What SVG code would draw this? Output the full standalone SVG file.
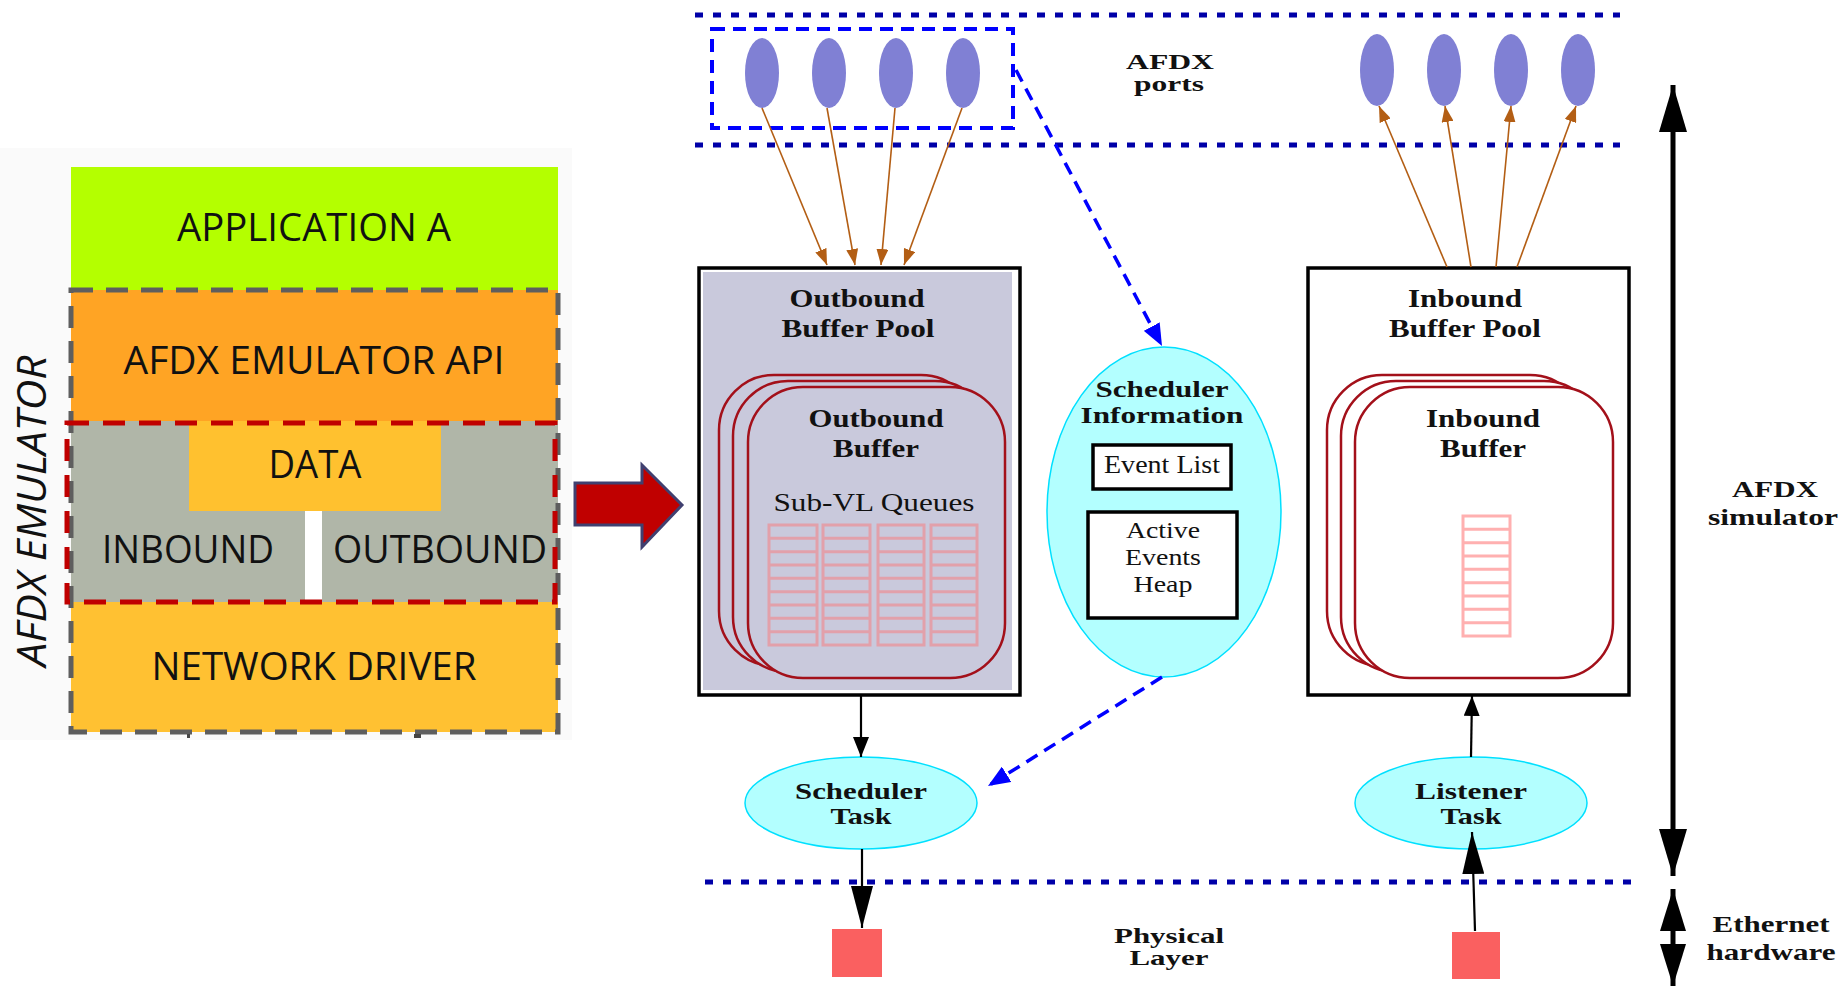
<svg xmlns="http://www.w3.org/2000/svg" width="1841" height="989" viewBox="0 0 1841 989">
<style>
.sans{font-family:"Open Sans","Noto Sans",sans-serif;fill:#111;}
.lt{font-size:38px;text-anchor:middle;}
.ser{font-family:"Liberation Serif","Times New Roman",serif;fill:#111;text-anchor:middle;}
.b{font-weight:bold;font-size:26px;}
.b2{font-weight:bold;font-size:23px;}
.b3{font-weight:bold;font-size:21px;}
.n{font-weight:normal;font-size:25px;}
.n2{font-weight:normal;font-size:23px;}
.dot{stroke:#0000a8;stroke-width:5;stroke-dasharray:8 10;fill:none;}
.port{fill:#8080d4;}
.brown{stroke:#b35e14;stroke-width:1.6;fill:none;marker-end:url(#hBrown);}
.bdash{stroke:#0000ff;stroke-width:3.5;stroke-dasharray:13 8;fill:none;}
.blk{stroke:#000;stroke-width:2.2;fill:none;}
.stack{fill:#c9c9dc;stroke:#a3101a;stroke-width:2.5;}
.stackw{fill:#fff;stroke:#a3101a;stroke-width:2.5;}
.q{fill:none;stroke:#e2a0aa;stroke-width:3;}
.qi{fill:none;stroke:#ffb0b0;stroke-width:3;}
.cyan{fill:#b3ffff;stroke:#00e0ff;stroke-width:1.5;}
.box{fill:#fff;stroke:#000;stroke-width:3.5;}
.phy{fill:#fa6060;}
</style>
<defs>
<marker id="hBrown" viewBox="0 0 16 12" refX="16" refY="6" markerWidth="16" markerHeight="12" markerUnits="userSpaceOnUse" orient="auto"><path d="M0,0 L16,6 L0,12 Z" fill="#b35e14"/></marker>
<marker id="hBlue" viewBox="0 0 22 18" refX="22" refY="9" markerWidth="22" markerHeight="18" markerUnits="userSpaceOnUse" orient="auto"><path d="M0,0 L22,9 L0,18 Z" fill="#0000ff"/></marker>
<marker id="hBlk" viewBox="0 0 20 16" refX="20" refY="8" markerWidth="20" markerHeight="16" markerUnits="userSpaceOnUse" orient="auto"><path d="M0,0 L20,8 L0,16 Z" fill="#000"/></marker>
<marker id="hBig" viewBox="0 0 42 22" refX="42" refY="11" markerWidth="42" markerHeight="22" markerUnits="userSpaceOnUse" orient="auto"><path d="M0,0 L42,11 L0,22 Z" fill="#000"/></marker>
<marker id="hVert" viewBox="0 0 47 28" refX="47" refY="14" markerWidth="47" markerHeight="28" markerUnits="userSpaceOnUse" orient="auto-start-reverse"><path d="M0,0 L47,14 L0,28 Z" fill="#000"/></marker>
<marker id="hEth" viewBox="0 0 42 26" refX="42" refY="13" markerWidth="42" markerHeight="26" markerUnits="userSpaceOnUse" orient="auto-start-reverse"><path d="M0,0 L42,13 L0,26 Z" fill="#000"/></marker>
</defs>
<rect x="0" y="0" width="1841" height="989" fill="#fff"/>
<rect x="0" y="148" width="572" height="592" fill="#fafafa"/>

<!-- Left: AFDX emulator stack -->
<g id="application-a">
<rect x="71" y="167" width="487" height="123" fill="#b4ff00"/>
<text class="sans lt" x="314" y="241" textLength="274" lengthAdjust="spacingAndGlyphs">APPLICATION A</text>
</g>
<g id="emulator-api">
<rect x="71" y="290" width="487" height="131" fill="#ffa424"/>
<text class="sans lt" x="314" y="374" textLength="381" lengthAdjust="spacingAndGlyphs">AFDX EMULATOR API</text>
</g>
<g id="data-layer">
<rect x="71" y="421" width="487" height="181" fill="#b0b6a8"/>
<rect x="189" y="421" width="252" height="90" fill="#ffc12f"/>
<rect x="305" y="511" width="17" height="91" fill="#fff"/>
<text class="sans lt" x="315" y="478" textLength="93" lengthAdjust="spacingAndGlyphs">DATA</text>
<text class="sans lt" x="188" y="563" textLength="172" lengthAdjust="spacingAndGlyphs">INBOUND</text>
<text class="sans lt" x="440" y="563" textLength="214" lengthAdjust="spacingAndGlyphs">OUTBOUND</text>
</g>
<g id="network-driver">
<rect x="71" y="602" width="487" height="130" fill="#ffc132"/>
<text class="sans lt" x="314" y="680" textLength="325" lengthAdjust="spacingAndGlyphs">NETWORK DRIVER</text>
</g>
<g id="emulator-frame">
<rect x="71" y="290" width="487" height="442" fill="none" stroke="#5e5e5e" stroke-width="5" stroke-dasharray="22 13"/>
<rect x="67" y="423" width="488" height="179" fill="none" stroke="#c00000" stroke-width="5" stroke-dasharray="22 14"/>
<rect x="187" y="734" width="3" height="4" fill="#444"/>
<rect x="414" y="734" width="7" height="4" fill="#444"/>
<text class="sans" transform="translate(46,511) rotate(-90)" x="0" y="0" text-anchor="middle" font-size="40" font-style="italic" textLength="311" lengthAdjust="spacingAndGlyphs">AFDX EMULATOR</text>
</g>
<g id="big-arrow">
<path d="M575,483 L642,483 L642,465 L682,505 L642,547 L642,525 L575,525 Z" fill="#c00000" stroke="#404070" stroke-width="3" stroke-linejoin="miter"/>
</g>

<!-- Right: AFDX simulator -->
<g id="layer-lines">
<line class="dot" x1="695" y1="15" x2="1620" y2="15"/>
<line class="dot" x1="695" y1="145" x2="1620" y2="145"/>
<line class="dot" x1="705" y1="882" x2="1631" y2="882"/>
</g>
<g id="out-ports">
<rect x="712" y="29" width="301" height="99" fill="none" stroke="#0000ff" stroke-width="4" stroke-dasharray="13 8"/>
<ellipse class="port" cx="762" cy="73" rx="17" ry="35"/>
<ellipse class="port" cx="829" cy="73" rx="17" ry="35"/>
<ellipse class="port" cx="896" cy="73" rx="17" ry="35"/>
<ellipse class="port" cx="963" cy="73" rx="17" ry="35"/>
</g>
<g id="in-ports">
<ellipse class="port" cx="1377" cy="70" rx="17" ry="36"/>
<ellipse class="port" cx="1444" cy="70" rx="17" ry="36"/>
<ellipse class="port" cx="1511" cy="70" rx="17" ry="36"/>
<ellipse class="port" cx="1578" cy="70" rx="17" ry="36"/>
</g>
<g id="afdx-ports-label">
<text class="ser b3" x="1170" y="69" textLength="88" lengthAdjust="spacingAndGlyphs">AFDX</text>
<text class="ser b3" x="1169" y="91" textLength="70" lengthAdjust="spacingAndGlyphs">ports</text>
</g>

<g id="outbound-buffer-pool">
<rect x="703" y="272" width="309" height="418" fill="#c9c9dc"/>
<rect x="699" y="268" width="321" height="427" fill="none" stroke="#000" stroke-width="3.5"/>
<text class="ser b" x="857" y="307" textLength="135" lengthAdjust="spacingAndGlyphs">Outbound</text>
<text class="ser b" x="858" y="337" textLength="153" lengthAdjust="spacingAndGlyphs">Buffer Pool</text>
</g>
<g id="outbound-buffer">
<rect class="stack" x="719" y="375" width="257" height="291" rx="55"/>
<rect class="stack" x="733" y="381" width="257" height="291" rx="55"/>
<rect class="stack" x="748" y="387" width="257" height="291" rx="55"/>
<text class="ser b" x="876" y="427" textLength="135" lengthAdjust="spacingAndGlyphs">Outbound</text>
<text class="ser b" x="876" y="457" textLength="86" lengthAdjust="spacingAndGlyphs">Buffer</text>
<text class="ser n" x="874" y="511" textLength="201" lengthAdjust="spacingAndGlyphs">Sub-VL Queues</text>
<g id="sub-vl-queues">
<rect class="q" x="769" y="525" width="48" height="120"/>
<rect class="q" x="823" y="525" width="47" height="120"/>
<rect class="q" x="878" y="525" width="46" height="120"/>
<rect class="q" x="931" y="525" width="46" height="120"/>
<path class="q" stroke-width="2.5" d="M769,538.3H817M769,551.7H817M769,565H817M769,578.3H817M769,591.7H817M769,605H817M769,618.3H817M769,631.7H817
M823,538.3H870M823,551.7H870M823,565H870M823,578.3H870M823,591.7H870M823,605H870M823,618.3H870M823,631.7H870
M878,538.3H924M878,551.7H924M878,565H924M878,578.3H924M878,591.7H924M878,605H924M878,618.3H924M878,631.7H924
M931,538.3H977M931,551.7H977M931,565H977M931,578.3H977M931,591.7H977M931,605H977M931,618.3H977M931,631.7H977"/>
</g>
</g>

<g id="inbound-buffer-pool">
<rect class="box" x="1308" y="268" width="321" height="427"/>
<text class="ser b" x="1465" y="307" textLength="114" lengthAdjust="spacingAndGlyphs">Inbound</text>
<text class="ser b" x="1465" y="337" textLength="152" lengthAdjust="spacingAndGlyphs">Buffer Pool</text>
</g>
<g id="inbound-buffer">
<rect class="stackw" x="1327" y="375" width="258" height="291" rx="55"/>
<rect class="stackw" x="1341" y="381" width="258" height="291" rx="55"/>
<rect class="stackw" x="1355" y="387" width="258" height="291" rx="55"/>
<text class="ser b" x="1483" y="427" textLength="114" lengthAdjust="spacingAndGlyphs">Inbound</text>
<text class="ser b" x="1483" y="457" textLength="86" lengthAdjust="spacingAndGlyphs">Buffer</text>
<rect class="qi" x="1463" y="516" width="47" height="120"/>
<path class="qi" stroke-width="2.5" d="M1463,529.3H1510M1463,542.7H1510M1463,556H1510M1463,569.3H1510M1463,582.7H1510M1463,596H1510M1463,609.3H1510M1463,622.7H1510"/>
</g>

<g id="scheduler-information">
<ellipse class="cyan" cx="1164" cy="512" rx="117" ry="165"/>
<text class="ser b2" x="1162" y="397" textLength="133" lengthAdjust="spacingAndGlyphs">Scheduler</text>
<text class="ser b2" x="1162" y="423" textLength="163" lengthAdjust="spacingAndGlyphs">Information</text>
<rect class="box" x="1093" y="445" width="138" height="44"/>
<text class="ser n" x="1162" y="473" textLength="116" lengthAdjust="spacingAndGlyphs">Event List</text>
<rect class="box" x="1088" y="512" width="149" height="106"/>
<text class="ser n2" x="1163" y="538" textLength="74" lengthAdjust="spacingAndGlyphs">Active</text>
<text class="ser n2" x="1163" y="565" textLength="76" lengthAdjust="spacingAndGlyphs">Events</text>
<text class="ser n2" x="1163" y="592" textLength="59" lengthAdjust="spacingAndGlyphs">Heap</text>
</g>

<g id="scheduler-task">
<ellipse class="cyan" cx="861" cy="803" rx="116" ry="46"/>
<text class="ser b2" x="861" y="799" textLength="132" lengthAdjust="spacingAndGlyphs">Scheduler</text>
<text class="ser b2" x="861" y="824" textLength="61" lengthAdjust="spacingAndGlyphs">Task</text>
</g>
<g id="listener-task">
<ellipse class="cyan" cx="1471" cy="803" rx="116" ry="46"/>
<text class="ser b2" x="1471" y="799" textLength="112" lengthAdjust="spacingAndGlyphs">Listener</text>
<text class="ser b2" x="1471" y="824" textLength="61" lengthAdjust="spacingAndGlyphs">Task</text>
</g>

<g id="physical-layer">
<rect class="phy" x="832" y="929" width="50" height="48"/>
<rect class="phy" x="1452" y="932" width="48" height="47"/>
<text class="ser b3" x="1169" y="943" textLength="110" lengthAdjust="spacingAndGlyphs">Physical</text>
<text class="ser b3" x="1169" y="965" textLength="79" lengthAdjust="spacingAndGlyphs">Layer</text>
</g>

<g id="side-labels">
<text class="ser b2" x="1775" y="497" textLength="86" lengthAdjust="spacingAndGlyphs">AFDX</text>
<text class="ser b2" x="1773" y="525" textLength="130" lengthAdjust="spacingAndGlyphs">simulator</text>
<text class="ser b2" x="1771" y="932" textLength="117" lengthAdjust="spacingAndGlyphs">Ethernet</text>
<text class="ser b2" x="1771" y="960" textLength="129" lengthAdjust="spacingAndGlyphs">hardware</text>
</g>

<g id="connectors">
<line class="brown" x1="762" y1="108" x2="827" y2="265"/>
<line class="brown" x1="827" y1="108" x2="855" y2="265"/>
<line class="brown" x1="895" y1="108" x2="881" y2="265"/>
<line class="brown" x1="962" y1="108" x2="904" y2="265"/>
<line class="brown" x1="1447" y1="267" x2="1379" y2="106"/>
<line class="brown" x1="1471" y1="267" x2="1445" y2="106"/>
<line class="brown" x1="1496" y1="267" x2="1511" y2="106"/>
<line class="brown" x1="1517" y1="267" x2="1576" y2="106"/>
<line class="bdash" x1="1016" y1="70" x2="1162" y2="346" marker-end="url(#hBlue)"/>
<line class="bdash" x1="1162" y1="677" x2="988" y2="786" marker-end="url(#hBlue)"/>
<line class="blk" x1="861" y1="696" x2="861" y2="757" marker-end="url(#hBlk)"/>
<line class="blk" x1="862" y1="849" x2="862" y2="928" marker-end="url(#hBig)"/>
<line class="blk" x1="1471" y1="757" x2="1472" y2="696" marker-end="url(#hBlk)"/>
<line class="blk" x1="1475" y1="931" x2="1472" y2="832" marker-end="url(#hBig)"/>
<line x1="1673" y1="85" x2="1673" y2="876" stroke="#000" stroke-width="5" marker-start="url(#hVert)" marker-end="url(#hVert)"/>
<line x1="1673" y1="889" x2="1673" y2="986" stroke="#000" stroke-width="5" marker-start="url(#hEth)" marker-end="url(#hEth)"/>
</g>
</svg>
